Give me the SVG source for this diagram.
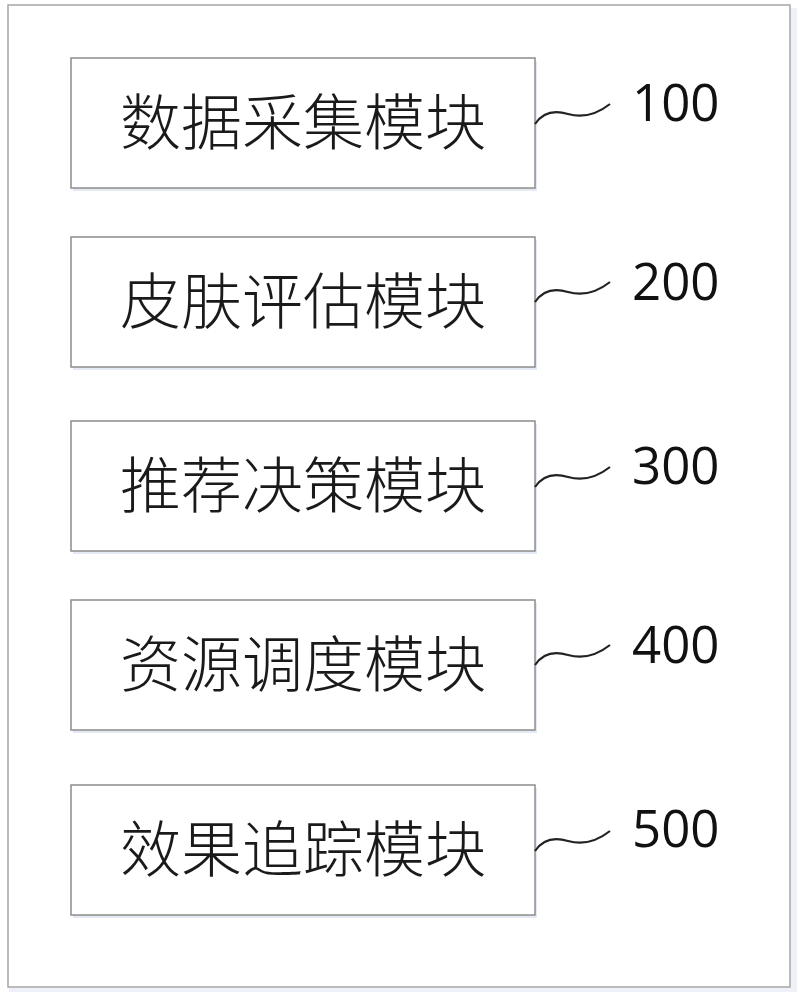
<svg xmlns="http://www.w3.org/2000/svg" width="799" height="1000" viewBox="0 0 799 1000">
<defs>
<style>
.frame{fill:#fff;stroke:#a6a6a6;stroke-width:1.5}
.shadow{fill:#e3eaf3}
.box{fill:#fff;stroke:#8c8c8c;stroke-width:1.5}
.t{font-family:"Noto Sans CJK SC","Noto Sans CJK JP",sans-serif;font-size:61px;font-weight:300;fill:#1a1a1a;text-anchor:middle}
.n{font-family:"Open Sans","Liberation Sans",sans-serif;font-size:51px;fill:#111}
.w{fill:none;stroke:#222;stroke-width:2.2}
</style>
</defs>
<rect width="799" height="1000" fill="#fff"/>
<rect x="9" y="8" width="788" height="984" class="shadow" opacity="0.6"/>
<rect x="8" y="5" width="782" height="982" class="frame"/>
<g id="n100">
<rect x="73" y="61" width="464" height="130" class="shadow"/>
<rect x="71" y="58" width="464" height="130" class="box"/>
<text x="303" y="145" class="t">数据采集模块</text>
<text x="632" y="121" class="n">100</text>
</g>
<g id="n200">
<rect x="73" y="240" width="464" height="130" class="shadow"/>
<rect x="71" y="237" width="464" height="130" class="box"/>
<text x="303" y="324" class="t">皮肤评估模块</text>
<text x="632" y="300" class="n">200</text>
</g>
<g id="n300">
<rect x="73" y="424" width="464" height="130" class="shadow"/>
<rect x="71" y="421" width="464" height="130" class="box"/>
<text x="303" y="508" class="t">推荐决策模块</text>
<text x="632" y="484" class="n">300</text>
</g>
<g id="n400">
<rect x="73" y="603" width="464" height="130" class="shadow"/>
<rect x="71" y="600" width="464" height="130" class="box"/>
<text x="303" y="687" class="t">资源调度模块</text>
<text x="632" y="663" class="n">400</text>
</g>
<g id="n500">
<rect x="73" y="788" width="464" height="130" class="shadow"/>
<rect x="71" y="785" width="464" height="130" class="box"/>
<text x="303" y="872" class="t">效果追踪模块</text>
<text x="632" y="847" class="n">500</text>
</g>
<g id="connectors">
<path class="w" d="M535,124 C543,112 555,110 568,114 C582,118 596,115 610,104"/>
<path class="w" d="M535,302 C543,290 555,288 568,292 C582,296 596,293 610,282"/>
<path class="w" d="M535,487 C543,475 555,473 568,477 C582,481 596,478 610,467"/>
<path class="w" d="M535,665 C543,653 555,651 568,655 C582,659 596,656 610,645"/>
<path class="w" d="M535,851 C543,839 555,837 568,841 C582,845 596,842 610,831"/>
</g>
</svg>
